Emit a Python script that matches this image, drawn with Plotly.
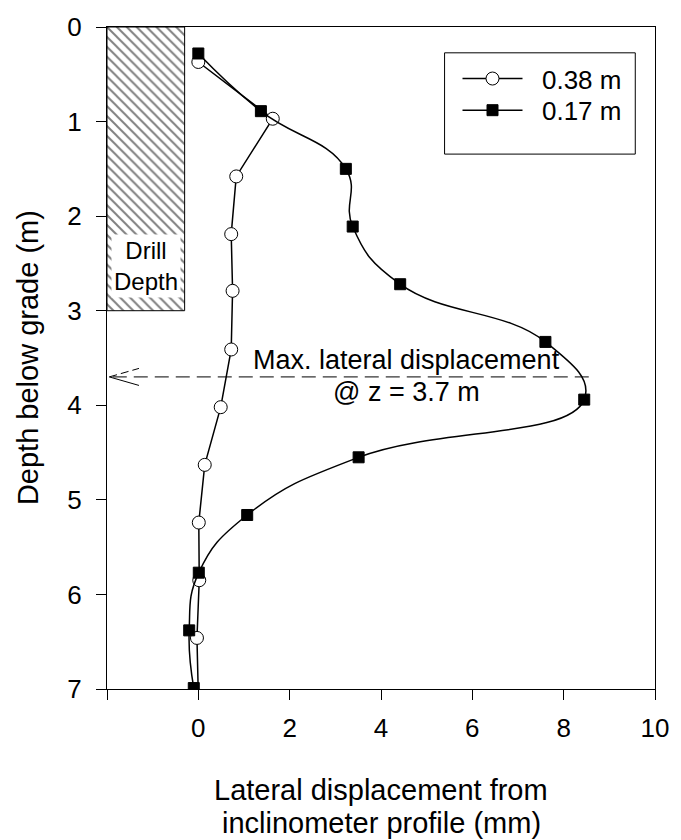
import plotly.graph_objects as go

# ---- data ----
depth_038 = [0.37, 0.97, 1.58, 2.19, 2.79, 3.41, 4.02, 4.63, 5.24, 5.85, 6.46, 7.07]
disp_038 = [0.00, 1.63, 0.83, 0.72, 0.75, 0.72, 0.49, 0.14, 0.01, 0.02, -0.03, 0.00]

depth_017 = [0.28, 0.89, 1.50, 2.11, 2.72, 3.33, 3.94, 4.55, 5.16, 5.77, 6.38, 6.99]
disp_017 = [0.00, 1.37, 3.23, 3.38, 4.42, 7.60, 8.45, 3.51, 1.07, 0.01, -0.20, -0.10]

series_names = ["0.38 m", "0.17 m"]

drill_x = [-2.0, -0.3]
drill_depth = 3.0

max_depth = 3.7
arrow_x = [8.55, -1.95]

x_ticks = [-2, 0, 2, 4, 6, 8, 10]
x_ticktext = ["", "0", "2", "4", "6", "8", "10"]
y_ticks = [0, 1, 2, 3, 4, 5, 6, 7]

x_title_lines = ["Lateral displacement from", "inclinometer profile (mm)"]
y_title = "Depth below grade (m)"

FONT = "Liberation Sans, Arial, sans-serif"
FS_TICK = 26
FS_TITLE = 29
FS_LEG = 26
FS_ANN = 27

fig = go.Figure()

# hatched drill-depth box
fig.add_trace(go.Scatter(
    x=[drill_x[0], drill_x[1], drill_x[1], drill_x[0], drill_x[0]],
    y=[0, 0, drill_depth, drill_depth, 0],
    mode="lines", fill="toself",
    fillcolor="white",
    fillpattern=dict(shape="\\", size=7, solidity=0.28, fgcolor="black", bgcolor="white"),
    line=dict(color="black", width=1),
    showlegend=False, hoverinfo="skip",
))

fig.add_trace(go.Scatter(
    x=disp_038, y=depth_038, name="  " + series_names[0], legend="legend",
    mode="lines+markers",
    line=dict(color="black", width=1.5),
    marker=dict(symbol="circle", size=13, color="white", line=dict(color="black", width=1)),
))
fig.add_trace(go.Scatter(
    x=disp_017, y=depth_017, name="  " + series_names[1], legend="legend2",
    mode="lines+markers",
    line=dict(color="black", width=1.5, shape="spline", smoothing=1.3),
    marker=dict(symbol="square", size=11, color="black", line=dict(color="black", width=1)),
))

shapes = [
    dict(type="line", xref="x", yref="y", x0=arrow_x[0], x1=arrow_x[1], y0=max_depth, y1=max_depth,
         line=dict(color="black", width=1, dash="14px,7px")),
    dict(type="line", xref="x", yref="y", x0=arrow_x[1], x1=arrow_x[1] + 0.65, y0=max_depth, y1=max_depth - 0.09,
         line=dict(color="black", width=1, dash="8px,4px")),
    dict(type="line", xref="x", yref="y", x0=arrow_x[1], x1=arrow_x[1] + 0.65, y0=max_depth, y1=max_depth + 0.09,
         line=dict(color="black", width=1)),
    # legend box
    dict(type="rect", xref="paper", yref="paper", x0=0.616, x1=0.964, y0=0.808, y1=0.961,
         line=dict(color="black", width=1), fillcolor="rgba(0,0,0,0)"),
]

annotations = [
    dict(x=(drill_x[0] + drill_x[1]) / 2, y=2.53, xref="x", yref="y", text="Drill<br>Depth",
         showarrow=False, bgcolor="white", font=dict(size=24, family=FONT, color="black"), borderpad=2),
    dict(x=4.55, y=3.52, xref="x", yref="y", text="Max. lateral displacement",
         showarrow=False, font=dict(size=FS_ANN, family=FONT, color="black")),
    dict(x=4.55, y=3.86, xref="x", yref="y", text="@ z = 3.7 m",
         showarrow=False, font=dict(size=FS_ANN, family=FONT, color="black")),
    dict(x=0.5, y=-0.1525, xref="paper", yref="paper", text=x_title_lines[0], showarrow=False,
         xanchor="center", yanchor="middle", font=dict(size=FS_TITLE, family=FONT, color="black")),
    dict(x=0.5, y=-0.2018, xref="paper", yref="paper", text=x_title_lines[1], showarrow=False,
         xanchor="center", yanchor="middle", font=dict(size=FS_TITLE, family=FONT, color="black")),
    dict(x=-0.144, y=0.5, xref="paper", yref="paper", text=y_title, showarrow=False, textangle=-90,
         xanchor="center", yanchor="middle", font=dict(size=FS_TITLE, family=FONT, color="black")),
]

leg_common = dict(xanchor="left", yanchor="top", bgcolor="rgba(0,0,0,0)", borderwidth=0, itemwidth=60,
                  font=dict(size=FS_LEG, family=FONT, color="black"))

fig.update_layout(
    width=681, height=840,
    margin=dict(l=107, r=19, t=19, b=151),
    paper_bgcolor="white", plot_bgcolor="white",
    font=dict(family=FONT, size=FS_TICK, color="black"),
    shapes=shapes, annotations=annotations,
    legend=dict(x=0.6396, y=0.9575, **leg_common),
    legend2=dict(x=0.6396, y=0.9097, **leg_common),
    xaxis=dict(range=[-2, 10], tickvals=x_ticks, ticktext=x_ticktext,
               showline=True, linecolor="black", linewidth=1, mirror=True,
               ticks="outside", ticklen=10, tickcolor="black", showgrid=False, zeroline=False,
               ticklabelstandoff=6, tickfont=dict(size=FS_TICK, family=FONT)),
    yaxis=dict(range=[7, 0], tickvals=y_ticks,
               showline=True, linecolor="black", linewidth=1, mirror=True,
               ticks="outside", ticklen=10, tickcolor="black", showgrid=False, zeroline=False,
               ticklabelstandoff=9, tickfont=dict(size=FS_TICK, family=FONT)),
)

fig.write_html("out.html")
